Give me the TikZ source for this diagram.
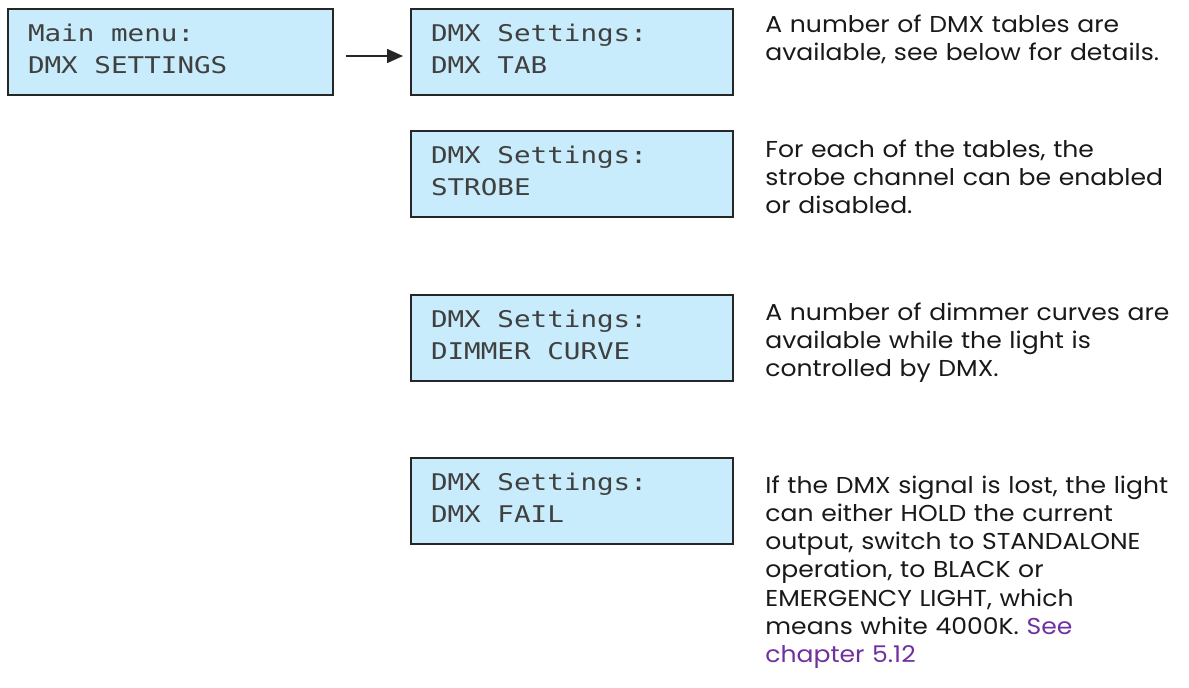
\documentclass[tikz,border=0pt]{standalone}
\usepackage{fontspec}
\setmainfont[FakeStretch=1.09]{Poppins}
\newfontfamily\lcdfont[FakeStretch=1.2]{DejaVu Sans Mono}
\usetikzlibrary{arrows.meta}
\definecolor{lcdblue}{RGB}{200,236,251}
\definecolor{linkpurple}{RGB}{112,48,160}
\DeclareRobustCommand\lcdtype{\lcdfont\fontsize{11.5}{16}\selectfont}

\begin{document}
\begin{tikzpicture}[x=0.5pt, y=-0.5pt,
  lcd/.style={draw=black!85, line width=1pt, fill=lcdblue, anchor=north west,
    minimum height=43pt, inner xsep=10pt, text width=141pt, align=left,
    font=\lcdtype, text=black!75,
    execute at begin node={\spaceskip=8.3pt\relax},
    execute at end node={\rule[-3pt]{0pt}{0pt}}},
  note/.style={anchor=base west, inner sep=0pt, text width=215pt, align=left,
    font=\fontsize{11.5}{14.15}\selectfont, text=black!90}]
  \useasboundingbox (0,0) rectangle (1189,687);
  % LCD screens
  \node[lcd, text width=142.5pt] (main) at (7,8) {Main menu:\\DMX SETTINGS};
  \node[lcd] (tab) at (410,8) {DMX Settings:\\DMX TAB};
  \node[lcd] (strobe) at (410,130) {DMX Settings:\\STROBE};
  \node[lcd] (curve) at (410,294) {DMX Settings:\\DIMMER CURVE};
  \node[lcd] (fail) at (410,457) {DMX Settings:\\DMX FAIL};

  \draw[-{Triangle[length=8pt,width=7pt]}, line width=0.8pt, black!85,
    shorten <=6pt, shorten >=3.5pt] ([yshift=-2pt]main.east) -- ([yshift=-2pt]tab.west);

  % descriptions
  \node[note] (tabtxt) at (765,32) {A number of DMX tables are\\available, see below for details.};
  \node[note] (strobetxt) at (765,157) {For each of the tables, the\\strobe channel can be enabled\\or disabled.};
  \node[note] (curvetxt) at (765,320) {A number of dimmer curves are\\available while the light is\\controlled by DMX.};
  \node[note] (failtxt) at (765,493) {If the DMX signal is lost, the light\\can either HOLD the current\\output, switch to STANDALONE\\operation, to BLACK or\\EMERGENCY LIGHT, which\\means white 4000K. \textcolor{linkpurple}{See}\\\textcolor{linkpurple}{chapter 5.12}};
\end{tikzpicture}
\end{document}
